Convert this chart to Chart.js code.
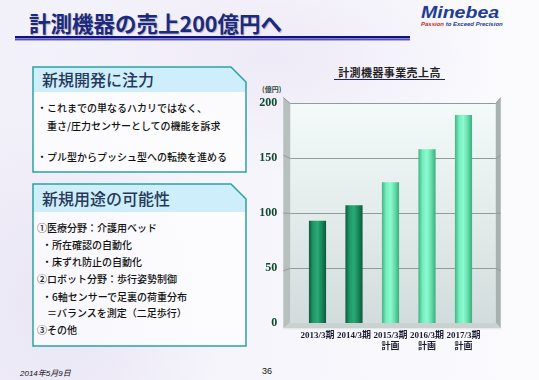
<!DOCTYPE html>
<html lang="ja">
<head>
<meta charset="UTF-8">
<title>計測機器の売上200億円へ</title>
<script src="https://cdn.jsdelivr.net/npm/chart.js@4"></script>
<style>
  body { margin: 0; }
  #slide {
    position: relative; width: 539px; height: 380px; overflow: hidden;
    font-family: "Noto Sans CJK JP", sans-serif; color: #111;
    background:
      radial-gradient(ellipse 160px 200px at 12% 80%, #e9e5f5 0%, rgba(255,255,255,0) 100%),
      radial-gradient(ellipse 220px 120px at 50% 15%, #eeeaf7 0%, rgba(255,255,255,0) 100%),
      linear-gradient(90deg, #f2f0f9, #fbfbfe);
  }
  .abs { position: absolute; white-space: nowrap; }
  .title { left: 29px; top: 10px; font-size: 21.5px; line-height: 26px; font-weight: bold; color: #1b2a80; text-shadow: 1px 1px 1px rgba(0,0,0,0.25); }
  .logo { left: 421px; top: 4px; font: italic bold 16px "Liberation Sans", sans-serif; color: #1e3c96; transform: scaleX(1.22); transform-origin: left; }
  .tag { left: 421px; top: 21px; font: italic bold 6px "Liberation Sans", sans-serif; color: #1e3c96; }
  .tag span { color: #d02525; }
  .head { font-size: 16px; line-height: 20px; color: #26395a; font-weight: 500; }
  .txt { font-size: 10px; line-height: 14px; color: #111; font-weight: 500; }
  .ctitle { left: 334px; top: 65px; width: 111px; text-align: center; font-size: 11px; line-height: 14px; font-weight: bold; color: #222; letter-spacing: 0.4px; border-bottom: 1.5px solid #1b2080; }
  .unit { left: 262px; top: 84px; font-size: 7px; font-weight: bold; color: #2c4a3a; }
  .foot { font: italic 8px "Liberation Sans", "Noto Sans CJK JP", sans-serif; color: #111; }
  canvas { position: absolute; left: 255px; top: 60px; }
</style>
</head>
<body>
<div id="slide">
  <svg class="abs" style="left:0;top:0" width="539" height="380">
    <rect x="15" y="36" width="395" height="2.5" fill="#10108a"/>
    <rect x="15" y="39.3" width="395" height="1" fill="#10108a"/>
    <!-- box 1 -->
    <polygon points="33,67 231,67 246,82 246,172 33,172" fill="rgba(255,255,255,0.7)"/>
    <polygon points="33,67 231,67 246,82 246,92 33,92" fill="#cdeefa"/>
    <polygon points="33,67 231,67 246,82 246,172 33,172" fill="none" stroke="#2ba3a3" stroke-width="1.5"/>
    <!-- box 2 -->
    <polygon points="33,184 231,184 246,199 246,346 33,346" fill="rgba(255,255,255,0.7)"/>
    <polygon points="33,184 231,184 246,199 246,212 33,212" fill="#cdeefa"/>
    <polygon points="33,184 231,184 246,199 246,346 33,346" fill="none" stroke="#2ba3a3" stroke-width="1.5"/>
  </svg>

  <div class="abs title">計測機器の売上200億円へ</div>
  <div class="abs logo">Minebea</div>
  <div class="abs tag"><span>Passion</span> to Exceed Precision</div>

  <div class="abs head" style="left:42px;top:69px">新規開発に注力</div>
  <div class="abs txt" style="left:37px;top:101px">・これまでの単なるハカリではなく、</div>
  <div class="abs txt" style="left:47px;top:119px">重さ/圧力センサーとしての機能を訴求</div>
  <div class="abs txt" style="left:37px;top:150px">・プル型からプッシュ型への転換を進める</div>

  <div class="abs head" style="left:42px;top:188px">新規用途の可能性</div>
  <div class="abs txt" style="left:37px;top:221px">①医療分野：介護用ベッド</div>
  <div class="abs txt" style="left:42px;top:238px">・所在確認の自動化</div>
  <div class="abs txt" style="left:42px;top:255px">・床ずれ防止の自動化</div>
  <div class="abs txt" style="left:37px;top:272px">②ロボット分野：歩行姿勢制御</div>
  <div class="abs txt" style="left:42px;top:290px">・6軸センサーで足裏の荷重分布</div>
  <div class="abs txt" style="left:47px;top:306px">＝バランスを測定（二足歩行）</div>
  <div class="abs txt" style="left:37px;top:323px">③その他</div>

  <div class="abs ctitle">計測機器事業売上高</div>
  <div class="abs unit">(億円)</div>
  <canvas id="salesChart" width="284" height="300"></canvas>

  <div class="abs foot" style="left:20px;top:367px">2014年5月9日</div>
  <div class="abs foot" style="left:262px;top:366px;font-style:normal;font-size:9px">36</div>
</div>

<script>
// data
const categories = [['2013/3期'], ['2014/3期'], ['2015/3期', '計画'], ['2016/3期', '計画'], ['2017/3期', '計画']];
const sales = [93, 107, 128, 158, 189];
const yTicks = [0, 50, 100, 150, 200];

// cylinder look: dark green for results, light green for plan
const actualStops = ['#0c5c3b', '#1f9a68', '#2aa976', '#18865a', '#0b5a39'];
const planStops = ['#3fb584', '#77eec0', '#8cfad0', '#66dcaa', '#3aae7e'];

function barFill(c) {
  const chart = c.chart;
  const area = chart.chartArea;
  const stops = categories[c.dataIndex].length > 1 ? planStops : actualStops;
  if (!area) return stops[2];
  const x = chart.scales.x.getPixelForValue(c.dataIndex);
  const w = (area.right - area.left) / categories.length * 0.47;
  const g = chart.ctx.createLinearGradient(x - w / 2, 0, x + w / 2, 0);
  stops.forEach((s, i) => g.addColorStop(i / (stops.length - 1), s));
  return g;
}

// back panel, side walls, floor and grid lines
const boxPlugin = {
  id: 'box3d',
  beforeDatasetsDraw(chart) {
    const { ctx, chartArea: a, scales: { y } } = chart;
    const top = y.getPixelForValue(yTicks[yTicks.length - 1]);
    const bot = y.getPixelForValue(0);
    const bl = a.left - 9, br = a.right + 14;
    const fl = bl - 7, fr = br + 5;
    const cy = (top + bot) / 2;
    const fy = v => cy + (y.getPixelForValue(v) - cy) * 1.05;

    ctx.save();
    let g = ctx.createLinearGradient(0, top, 0, bot);
    g.addColorStop(0, '#f4fafa');
    g.addColorStop(1, '#d3dcdc');
    ctx.fillStyle = g;
    ctx.fillRect(bl, top, br - bl, bot - top);

    ctx.fillStyle = '#b7c0bf';
    ctx.beginPath();
    ctx.moveTo(fl, fy(200)); ctx.lineTo(bl, top); ctx.lineTo(bl, bot); ctx.lineTo(fl, fy(0));
    ctx.closePath(); ctx.fill();

    ctx.fillStyle = '#a8b1b1';
    ctx.beginPath();
    ctx.moveTo(br, top); ctx.lineTo(fr, fy(200)); ctx.lineTo(fr, fy(0)); ctx.lineTo(br, bot);
    ctx.closePath(); ctx.fill();

    ctx.fillStyle = '#c9d1d1';
    ctx.beginPath();
    ctx.moveTo(fl, fy(0)); ctx.lineTo(bl, bot); ctx.lineTo(br, bot); ctx.lineTo(fr, fy(0));
    ctx.closePath(); ctx.fill();

    ctx.strokeStyle = '#939a9a';
    ctx.lineWidth = 1;
    yTicks.forEach(v => {
      if (v === 0) return;
      const yy = Math.round(y.getPixelForValue(v)) + 0.5;
      ctx.beginPath();
      ctx.moveTo(fl, fy(v)); ctx.lineTo(bl, yy); ctx.lineTo(br, yy); ctx.lineTo(fr, fy(v));
      ctx.stroke();
    });
    ctx.strokeStyle = '#e8eeee';
    ctx.beginPath();
    ctx.moveTo(fl, fy(0) + 0.5); ctx.lineTo(fr, fy(0) + 0.5);
    ctx.stroke();
    ctx.restore();
  }
};

new Chart(document.getElementById('salesChart'), {
  type: 'bar',
  data: {
    labels: categories,
    datasets: [{
      data: sales,
      backgroundColor: barFill,
      categoryPercentage: 1,
      barPercentage: 0.47
    }]
  },
  options: {
    responsive: false,
    devicePixelRatio: 1,
    animation: false,
    layout: { padding: { top: 43, right: 57.25, left: 0, bottom: 0 } },
    plugins: { legend: { display: false }, tooltip: { enabled: false } },
    scales: {
      x: {
        grid: { display: false, drawTicks: false },
        border: { display: false },
        ticks: {
          padding: 7,
          maxRotation: 0,
          minRotation: 0,
          autoSkip: false,
          color: '#1b1b33',
          font: { family: '"Liberation Serif", "Noto Sans CJK JP"', size: 9, weight: 'bold', lineHeight: 1.2 }
        },
        afterFit: s => { s.height = 37; }
      },
      y: {
        min: 0,
        max: 200,
        grid: { display: false, drawTicks: false },
        border: { display: false },
        afterBuildTicks: s => { s.ticks = yTicks.map(v => ({ value: v })); },
        ticks: {
          padding: 22,
          color: '#0e4a30',
          font: { family: '"Liberation Serif"', size: 12, weight: 'bold' }
        },
        afterFit: s => { s.width = 44.25; }
      }
    }
  },
  plugins: [boxPlugin]
});
</script>
</body>
</html>
